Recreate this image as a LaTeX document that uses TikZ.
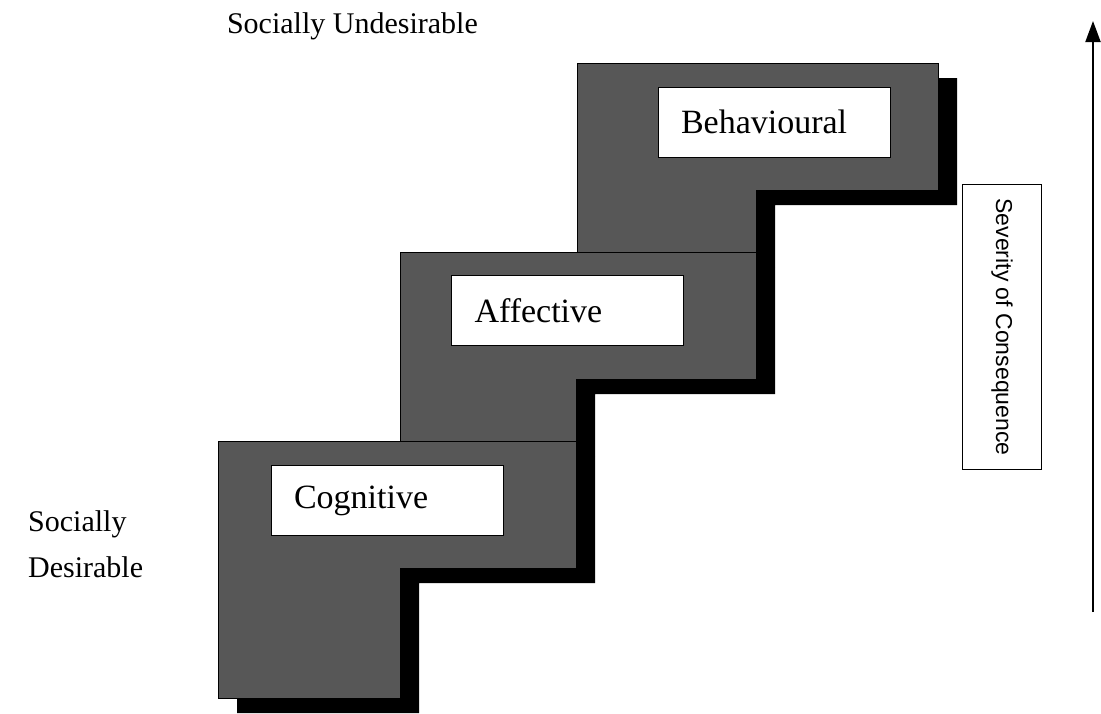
\documentclass[tikz,border=0pt]{standalone}
\usepackage{fontspec}
\setmainfont{Liberation Serif}
\newfontfamily\arialfont{Liberation Sans}
\usepackage{tikz}
\usetikzlibrary{arrows.meta, positioning}
% one stair: left, top, right, inner x, arm bottom, bottom
\newcommand{\stairstep}[6]{%
  \fill[Shadow, shift={(19,15)}] (#1,#2) -| (#3,#5) -| (#4,#6) -| (#1,#2) -- cycle;
  \filldraw[Step] (#1,#2) -| (#3,#5) -| (#4,#6) -| (#1,#2) -- cycle;
}

\begin{document}
\begin{tikzpicture}
  [
    x=1pt, y=-1pt,
    Step/.style={draw=black, fill=black!66, line width=1pt},
    Shadow/.style={fill=black},
    Label/.style={rectangle, draw=black, fill=white, line width=0.8pt, text width=186pt, inner xsep=23pt, minimum height=70pt, align=left, font=\fontsize{34}{40}\selectfont},
    Side/.style={inner sep=0pt, align=left, font=\fontsize{30}{46}\selectfont},
    Sev/.style={rectangle, draw=black, line width=1pt, rotate=-90, minimum width=285pt, minimum height=79pt, font=\arialfont\fontsize{23}{28}\selectfont}
  ]
  \useasboundingbox (0,0) rectangle (1101,713);
  % Steps
  \stairstep{577}{63}{938}{756}{190}{252}
  \stairstep{400}{252}{756}{576}{379}{441}
  \stairstep{218}{441}{576}{400}{568}{698}
  % Nodes
  \node[Label] (beh) at (774,122) {Behavioural};
  \node[Label] (aff) at (567.5,310.5) {Affective};
  \node[Label] (cog) at (387,500.5) {Cognitive};
  \node[Side, anchor=base east] (undes) at (478,33) {Socially Undesirable};
  \node[Side, anchor=west] (des) at (28,544) {Socially\\Desirable};
  \node[Sev] (sev) at (1002,327) {Severity of Consequence};
  \coordinate (low) at (1093,612);
  \coordinate (high) at (1093,21);
  % Lines
  \path [-{Triangle[length=21pt, width=15pt]}, draw, line width=2pt] (low) -- (high);
\end{tikzpicture}
\end{document}
